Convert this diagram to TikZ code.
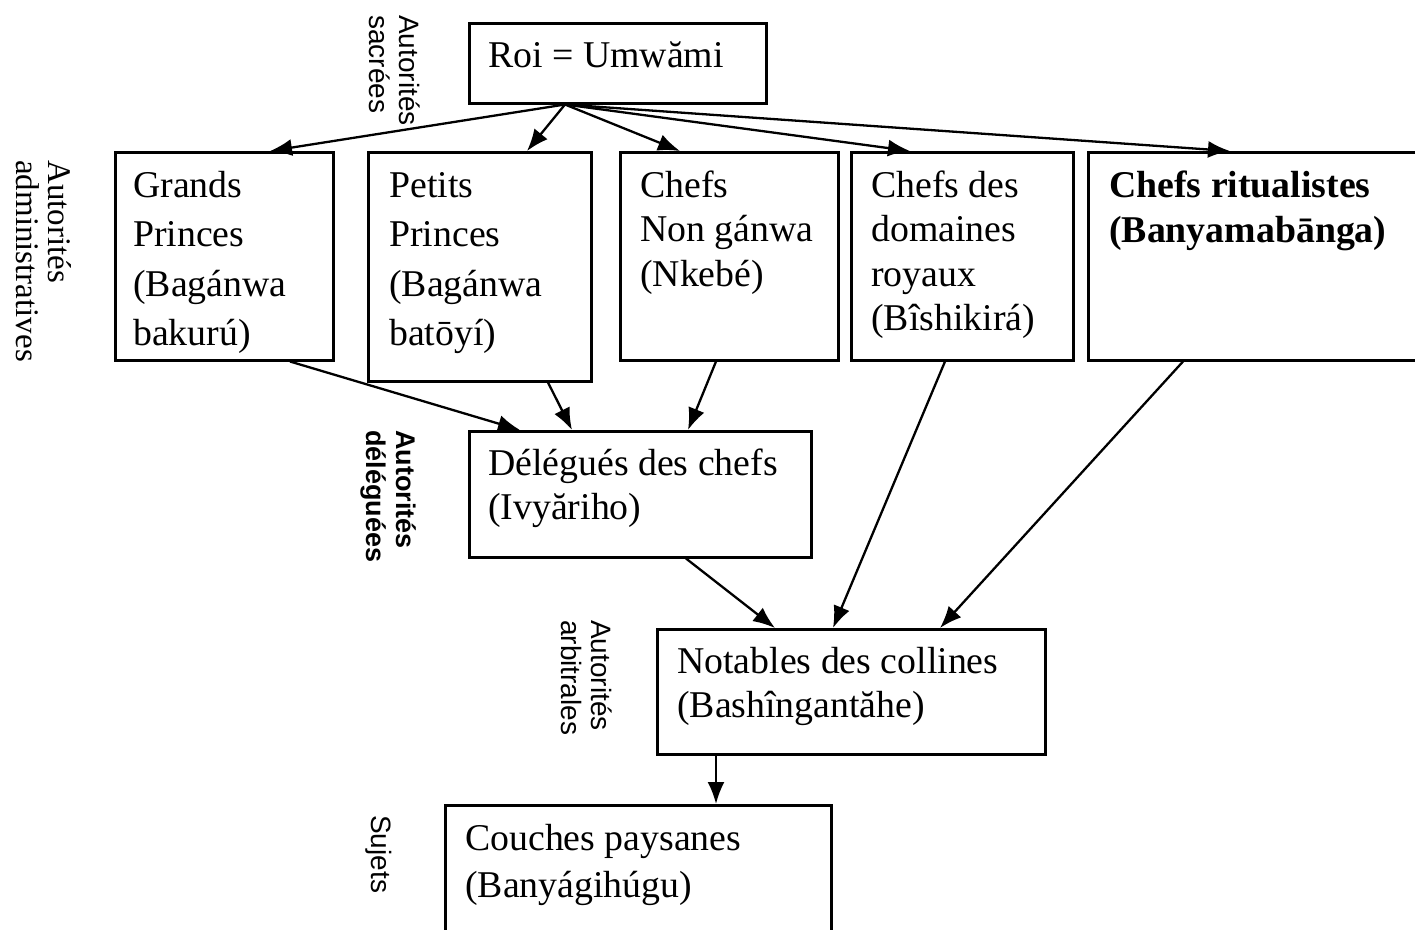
\documentclass[tikz,border=0pt]{standalone}
\usepackage{fontspec}
\setmainfont{Liberation Serif}
\newfontfamily\labsans{Liberation Sans}
\usetikzlibrary{arrows.meta,calc}
\begin{document}
\begin{tikzpicture}[x=1pt,y=-1pt,
  box/.style={draw,line width=2.5pt,inner sep=0pt,anchor=north west},
  txt/.style={inner sep=0pt,anchor=base west,align=left,font=\fontsize{37.8}{44.5}\selectfont},
  txtwide/.style={txt,font=\fontsize{37.8}{49.5}\selectfont},
  arr/.style={line width=2.3pt,-{Latex[length=22pt,width=17pt]}},
  side/.style={rotate=-90,anchor=north west,inner sep=0pt,align=left,font=\labsans\fontsize{28}{30}\selectfont}]
\useasboundingbox (0,0) rectangle (1415,929);
\clip (0,0) rectangle (1415,929);

% boxes
\node[box,minimum width=297pt,minimum height=80pt] (roi) at (468,22) {};
\node[box,minimum width=218pt,minimum height=208pt] (gp) at (114,151) {};
\node[box,minimum width=223pt,minimum height=229pt] (pp) at (367,151) {};
\node[box,minimum width=218pt,minimum height=208pt] (cng) at (619,151) {};
\node[box,minimum width=222pt,minimum height=208pt] (dom) at (850,151) {};
\node[box,minimum width=360pt,minimum height=208pt] (rit) at (1087,151) {};
\node[box,minimum width=342pt,minimum height=126pt] (del) at (468,430) {};
\node[box,minimum width=388pt,minimum height=125pt] (not) at (656,628) {};
\node[box,minimum width=386pt,minimum height=160pt] (cou) at (444,804) {};

% texts (anchored at the baseline of the last line)
\node[txt] (troi) at (488,67) {Roi = Umwămi};
\node[txtwide] (tgp) at (133,345.5) {Grands\\Princes\\(Bagánwa\\bakurú)};
\node[txtwide] (tpp) at (389,345.5) {Petits\\Princes\\(Bagánwa\\batōyí)};
\node[txt] (tcng) at (640,286) {Chefs\\Non gánwa\\(Nkebé)};
\node[txt] (tdom) at (871,330.5) {Chefs des\\domaines\\royaux\\(Bîshikirá)};
\node[txt,font=\bfseries\fontsize{37.8}{45}\selectfont] (trit) at (1109,242) {Chefs ritualistes\\(Banyamabānga)};
\node[txt] (tdel) at (488,519.5) {Délégués des chefs\\(Ivyăriho)};
\node[txt] (tnot) at (677,717.5) {Notables des collines\\(Bashîngantăhe)};
\node[txt,font=\fontsize{37.8}{47}\selectfont] (tcou) at (465,897) {Couches paysanes\\(Banyágihúgu)};

% side labels
\node[side] (lsac) at (420,15) {Autorités\\sacrées};
\node[side,font=\fontsize{33}{32}\selectfont] (ladm) at (72,160) {Autorités\\administratives};
\node[side,font=\labsans\bfseries\fontsize{27}{30}\selectfont] (ldel) at (416,430) {Autorités\\déléguées};
\node[side] (larb) at (612,620) {Autorités\\arbitrales};
\node[side] (lsuj) at (392,815) {Sujets};

% arrows from the king
\coordinate (apex) at ($(roi.south west)+(97,0)$);
\draw[arr] (apex) -- ($(gp.north west)+(156,0)$);
\draw[arr] (apex) -- ($(pp.north west)+(160,0)$);
\draw[arr] (apex) -- ($(cng.north west)+(61,0)$);
\draw[arr] (apex) -- ($(dom.north west)+(60,0)$);
\draw[arr] (apex) -- ($(rit.north west)+(143,0)$);

% to delegates
\draw[arr] ($(gp.south west)+(176,0)$) -- ($(del.north west)+(52,0)$);
\draw[arr] ($(pp.south west)+(181,0)$) -- ($(del.north west)+(104,0)$);
\draw[arr] ($(cng.south west)+(97,0)$) -- ($(del.north west)+(220,0)$);

% to notables
\draw[arr] ($(del.south west)+(218,0)$) -- ($(not.north west)+(119,0)$);
\draw[arr] ($(dom.south west)+(95,0)$) -- ($(not.north west)+(177,0)$);
\draw[arr] ($(rit.south west)+(96,0)$) -- ($(not.north west)+(284,0)$);

% to peasants
\draw[arr] ($(not.south west)+(60,0)$) -- ($(cou.north west)+(272,0)$);
\end{tikzpicture}
\end{document}
